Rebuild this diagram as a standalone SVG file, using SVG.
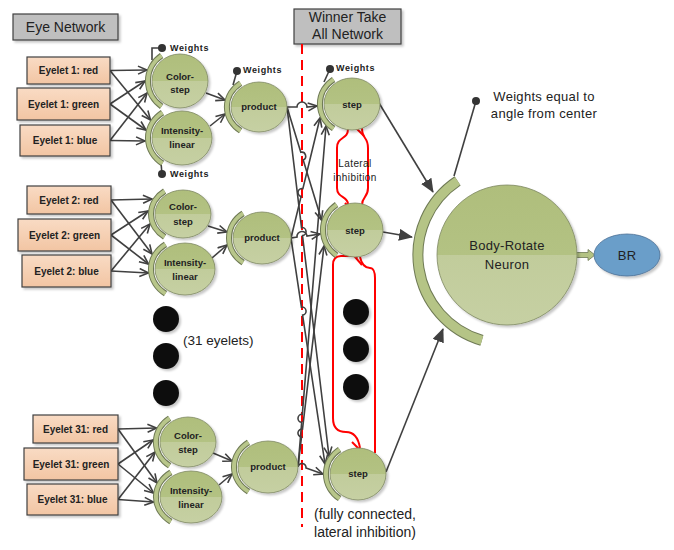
<svg xmlns="http://www.w3.org/2000/svg" width="674" height="550" viewBox="0 0 674 550">
<defs>
<linearGradient id="gGreen" x1="0" y1="0" x2="0" y2="1">
<stop offset="0" stop-color="#afbe7c"/><stop offset="0.5" stop-color="#b3c283"/><stop offset="0.5" stop-color="#c1cc9b"/><stop offset="1" stop-color="#c6d0a3"/>
</linearGradient>
<linearGradient id="gPeach" x1="0" y1="0" x2="0" y2="1">
<stop offset="0" stop-color="#f9dbc4"/><stop offset="1" stop-color="#f2c5a3"/>
</linearGradient>
<filter id="sh" x="-20%" y="-20%" width="150%" height="150%">
<feDropShadow dx="2" dy="2" stdDeviation="1" flood-color="#000" flood-opacity="0.22"/>
</filter>
<marker id="open" markerUnits="userSpaceOnUse" markerWidth="12" markerHeight="10" viewBox="0 0 12 10" refX="10" refY="5" orient="auto">
<path d="M1,1 L10,5 L1,9" fill="none" stroke="#404040" stroke-width="1.6"/>
</marker>
<marker id="solid" markerUnits="userSpaceOnUse" markerWidth="14" markerHeight="12" viewBox="0 0 14 12" refX="13" refY="6" orient="auto">
<path d="M0,0 L14,6 L0,12 z" fill="#404040"/>
</marker>
</defs>
<style>
.ln{fill:none;stroke:#404040;stroke-width:1.6}
.ar{marker-end:url(#open)}
.as{marker-end:url(#solid)}
.node{fill:url(#gGreen);stroke:#7d8862;stroke-width:0.8}
.bo{fill:none;stroke:#6f7a55;stroke-width:6}
.bi{fill:none;stroke:#b8c68a;stroke-width:4}
.box{fill:url(#gPeach);stroke:#404040;stroke-width:1.2}
.gbox{fill:#bfbfbf;stroke:#404040;stroke-width:1.2}
.red{fill:none;stroke:#ff0000;stroke-width:2}
.dot{fill:#0d0d0d}
.sd{filter:url(#sh)}
text{font-family:"Liberation Sans",Arial,sans-serif;fill:#222}
.lbl{font-size:10px;font-weight:bold;text-anchor:middle}
.nt{font-size:9.5px;font-weight:bold;text-anchor:middle}
.wt{font-size:9px;font-weight:bold;letter-spacing:0.6px}
.tt{font-size:14px;text-anchor:middle}
.big{font-size:13px;text-anchor:middle;letter-spacing:0.3px}
</style>

<!-- title boxes -->
<g id="eye-network">
<rect class="gbox sd" x="13" y="14" width="105" height="26"/>
<text class="tt" x="65.5" y="32">Eye Network</text>
</g>
<g id="wta-network">
<rect class="gbox sd" x="294" y="9" width="107" height="35"/>
<text class="tt" x="347.5" y="22">Winner Take</text>
<text class="tt" x="347.5" y="39">All Network</text>
</g>

<!-- red dashed divider -->
<line x1="302" y1="44" x2="302" y2="527" stroke="#ff0000" stroke-width="2" stroke-dasharray="10,6"/>

<!-- connectors -->
<g id="connectors">
<!-- group 1 eyelets -->
<line class="ln ar" x1="110" y1="70.5" x2="147" y2="70"/>
<line class="ln ar" x1="110" y1="70.5" x2="150.5" y2="120"/>
<line class="ln ar" x1="110" y1="104" x2="145" y2="81"/>
<line class="ln ar" x1="110" y1="104" x2="146" y2="130"/>
<line class="ln ar" x1="110" y1="140.5" x2="147" y2="93"/>
<line class="ln ar" x1="110" y1="140.5" x2="145" y2="141"/>
<!-- group 2 eyelets -->
<line class="ln ar" x1="111" y1="200" x2="152" y2="199"/>
<line class="ln ar" x1="111" y1="200" x2="152" y2="254"/>
<line class="ln ar" x1="111" y1="235" x2="148" y2="211"/>
<line class="ln ar" x1="111" y1="235" x2="148.5" y2="264"/>
<line class="ln ar" x1="111" y1="271" x2="150" y2="224"/>
<line class="ln ar" x1="111" y1="271" x2="148.5" y2="273"/>
<!-- group 31 eyelets -->
<line class="ln ar" x1="118" y1="429" x2="156.5" y2="428"/>
<line class="ln ar" x1="118" y1="429" x2="157" y2="483"/>
<line class="ln ar" x1="118" y1="464" x2="153" y2="440"/>
<line class="ln ar" x1="118" y1="464" x2="153.5" y2="493"/>
<line class="ln ar" x1="118" y1="499.5" x2="155" y2="452"/>
<line class="ln ar" x1="118" y1="499.5" x2="153.5" y2="502"/>
<!-- filters to product -->
<line class="ln ar" x1="206" y1="93" x2="225" y2="100"/>
<line class="ln ar" x1="210" y1="126" x2="225" y2="114"/>
<line class="ln ar" x1="208" y1="226" x2="227" y2="232"/>
<line class="ln ar" x1="212" y1="258" x2="227" y2="245"/>
<line class="ln ar" x1="213" y1="453" x2="232" y2="461"/>
<line class="ln ar" x1="219" y1="485" x2="232" y2="474"/>
<!-- products to steps (fully connected) -->
<path class="ln ar" d="M287 107 L297 107 A5 5 0 0 1 307 107 L317 106"/>
<path class="ln ar" d="M287 107 L300.8 152.3 A4 4 0 0 1 303.2 159.9 L321.5 220"/>
<path class="ln ar" d="M287 107 L301.5 227.6 A4 4 0 0 1 302.5 235.6 L329 456"/>
<path class="ln ar" d="M291 238 L301.1 196.4 A4 4 0 0 1 302.9 188.6 L320 118"/>
<path class="ln ar" d="M291 238 L297 237 A5 5 0 0 1 307 236 L320 234"/>
<path class="ln ar" d="M291 238 L301.4 307.1 A4 4 0 0 1 302.6 315.1 L325 464"/>
<path class="ln ar" d="M298 467 L301.7 422.3 A4 4 0 0 1 302.3 414.3 L326 126"/>
<path class="ln ar" d="M298 467 L301.5 437 A4 4 0 0 1 302.5 429 L324 246"/>
<path class="ln ar" d="M298 467 A4 4 0 0 1 306 468 L323 474"/>
<!-- steps to neuron -->
<line class="ln as" x1="379" y1="103" x2="433" y2="192"/>
<line class="ln as" x1="383" y1="232" x2="412" y2="237"/>
<line class="ln as" x1="386" y1="472" x2="443" y2="329"/>
<!-- weights lines -->
<polyline class="ln" points="162,48 152,48 152,60"/>
<line class="ln" x1="161" y1="163" x2="162" y2="174"/>
<line class="ln" x1="237" y1="71" x2="233" y2="85"/>
<line class="ln" x1="330" y1="69" x2="324" y2="82"/>
<line class="ln" x1="476" y1="101" x2="454" y2="176"/>
<!-- lateral inhibition -->
<path class="red" d="M348 129 C348 140 337 136 337 148 L337 188 C337 198 348 196 348 204"/>
<path class="red" d="M362 128 C362 140 368 136 368 148 L368 188 C368 198 362 196 362 205"/>
<line class="red" x1="350" y1="122" x2="364" y2="136"/>
<line class="red" x1="345" y1="203" x2="357" y2="216"/>
<path class="red" d="M357 258 C356 254 352 256 346 256 L341 256 C336 256 333 259 333 265 L333 418 C333 428 338 432 346 432 C353 432 358 436 360 448"/>
<path class="red" d="M360 257 C362 266 366 268 370 268 C373 268 375 272 375 278 L375 453"/>
<line class="red" x1="349" y1="250" x2="362" y2="265"/>
<line class="red" x1="352" y1="442" x2="365" y2="455"/>
<!-- neuron to BR -->
<polygon points="576,252.5 588,252.5 588,249.5 595,255 588,260.5 588,257.5 576,257.5" fill="#b3c283" stroke="#6f7a55" stroke-width="0.8"/>
</g>

<!-- weight dots and labels -->
<g id="weights">
<circle cx="162" cy="48" r="4" fill="#333"/>
<text class="wt" x="170" y="51">Weights</text>
<circle cx="162" cy="174" r="4" fill="#333"/>
<text class="wt" x="170" y="177">Weights</text>
<circle cx="237" cy="71" r="4" fill="#333"/>
<text class="wt" x="243" y="73">Weights</text>
<circle cx="330" cy="69" r="4" fill="#333"/>
<text class="wt" x="336" y="71">Weights</text>
<circle cx="476" cy="101" r="4" fill="#333"/>
<text class="big" x="544" y="101">Weights equal to</text>
<text class="big" x="544" y="118">angle from center</text>
</g>

<!-- eyelets -->
<g id="eyelet1-red"><rect class="box sd" x="27" y="57" width="83" height="27"/><text class="lbl" x="68.5" y="74">Eyelet 1: red</text></g>
<g id="eyelet1-green"><rect class="box sd" x="17" y="88" width="93" height="32"/><text class="lbl" x="63.5" y="107.5">Eyelet 1: green</text></g>
<g id="eyelet1-blue"><rect class="box sd" x="20" y="125" width="90" height="31"/><text class="lbl" x="65" y="144">Eyelet 1: blue</text></g>
<g id="eyelet2-red"><rect class="box sd" x="27" y="186" width="84" height="28"/><text class="lbl" x="69" y="203.5">Eyelet 2: red</text></g>
<g id="eyelet2-green"><rect class="box sd" x="18" y="219" width="93" height="32"/><text class="lbl" x="64.5" y="238.5">Eyelet 2: green</text></g>
<g id="eyelet2-blue"><rect class="box sd" x="22" y="255" width="89" height="32"/><text class="lbl" x="66.5" y="274.5">Eyelet 2: blue</text></g>
<g id="eyelet31-red"><rect class="box sd" x="33" y="415" width="85" height="28"/><text class="lbl" x="75.5" y="432.5">Eyelet 31: red</text></g>
<g id="eyelet31-green"><rect class="box sd" x="24" y="448" width="94" height="32"/><text class="lbl" x="71" y="467.5">Eyelet 31: green</text></g>
<g id="eyelet31-blue"><rect class="box sd" x="27" y="484" width="91" height="31"/><text class="lbl" x="72.5" y="503">Eyelet 31: blue</text></g>

<!-- filter neurons -->
<g id="color1"><path class="bo" d="M161.6 55.6 A32 31 0 0 0 161.6 106.4"/><path class="bi" d="M161.6 55.6 A32 31 0 0 0 161.6 106.4"/><ellipse class="node sd" cx="180" cy="81" rx="28" ry="27"/><text class="nt" x="180" y="80">Color-</text><text class="nt" x="180" y="93">step</text></g>
<g id="intensity1"><path class="bo" d="M162.5 112.6 A34 31 0 0 0 162.5 163.4"/><path class="bi" d="M162.5 112.6 A34 31 0 0 0 162.5 163.4"/><ellipse class="node sd" cx="182" cy="138" rx="30" ry="27"/><text class="nt" x="182" y="134">Intensity-</text><text class="nt" x="182" y="148">linear</text></g>
<g id="color2"><path class="bo" d="M164.6 191.1 A32 28 0 0 0 164.6 236.9"/><path class="bi" d="M164.6 191.1 A32 28 0 0 0 164.6 236.9"/><ellipse class="node sd" cx="183" cy="214" rx="28" ry="24"/><text class="nt" x="183" y="210">Color-</text><text class="nt" x="183" y="225">step</text></g>
<g id="intensity2"><path class="bo" d="M165.5 244.4 A34 30 0 0 0 165.5 293.6"/><path class="bi" d="M165.5 244.4 A34 30 0 0 0 165.5 293.6"/><ellipse class="node sd" cx="185" cy="269" rx="30" ry="26"/><text class="nt" x="185" y="266">Intensity-</text><text class="nt" x="185" y="280">linear</text></g>
<g id="color31"><path class="bo" d="M169.6 418.2 A32 29 0 0 0 169.6 465.8"/><path class="bi" d="M169.6 418.2 A32 29 0 0 0 169.6 465.8"/><ellipse class="node sd" cx="188" cy="442" rx="28" ry="25"/><text class="nt" x="188" y="439">Color-</text><text class="nt" x="188" y="453">step</text></g>
<g id="intensity31"><path class="bo" d="M170.9 472.4 A35 30 0 0 0 170.9 521.6"/><path class="bi" d="M170.9 472.4 A35 30 0 0 0 170.9 521.6"/><ellipse class="node sd" cx="191" cy="497" rx="31" ry="26"/><text class="nt" x="191" y="494">Intensity-</text><text class="nt" x="191" y="508">linear</text></g>

<!-- product neurons -->
<g id="product1"><path class="bo" d="M240.6 83.2 A32 29 0 0 0 240.6 130.8"/><path class="bi" d="M240.6 83.2 A32 29 0 0 0 240.6 130.8"/><ellipse class="node sd" cx="259" cy="107" rx="28" ry="25"/><text class="nt" x="259" y="110">product</text></g>
<g id="product2"><path class="bo" d="M243.1 213.4 A33 30 0 0 0 243.1 262.6"/><path class="bi" d="M243.1 213.4 A33 30 0 0 0 243.1 262.6"/><ellipse class="node sd" cx="262" cy="238" rx="29" ry="26"/><text class="nt" x="262" y="241">product</text></g>
<g id="product31"><path class="bo" d="M248.5 442.4 A34 30 0 0 0 248.5 491.6"/><path class="bi" d="M248.5 442.4 A34 30 0 0 0 248.5 491.6"/><ellipse class="node sd" cx="268" cy="467" rx="30" ry="26"/><text class="nt" x="268" y="470">product</text></g>

<!-- step neurons -->
<g id="step1"><path class="bo" d="M333.6 79.4 A32 30 0 0 0 333.6 128.6"/><path class="bi" d="M333.6 79.4 A32 30 0 0 0 333.6 128.6"/><ellipse class="node sd" cx="352" cy="104" rx="28" ry="26"/><text class="nt" x="352" y="108">step</text></g>
<g id="step2"><path class="bo" d="M336.6 204.6 A32 31 0 0 0 336.6 255.4"/><path class="bi" d="M336.6 204.6 A32 31 0 0 0 336.6 255.4"/><ellipse class="node sd" cx="355" cy="230" rx="28" ry="27"/><text class="nt" x="355" y="234">step</text></g>
<g id="step31"><path class="bo" d="M339.6 449.4 A32 30 0 0 0 339.6 498.6"/><path class="bi" d="M339.6 449.4 A32 30 0 0 0 339.6 498.6"/><ellipse class="node sd" cx="358" cy="474" rx="28" ry="26"/><text class="nt" x="358" y="477">step</text></g>

<!-- ellipsis dots -->
<g id="more-eyelets">
<circle class="dot sd" cx="166" cy="319" r="13"/>
<circle class="dot sd" cx="166" cy="356" r="13"/>
<circle class="dot sd" cx="166" cy="393" r="13"/>
<text x="183" y="345" style="font-size:13.5px">(31 eyelets)</text>
</g>
<g id="more-steps">
<circle class="dot sd" cx="356" cy="312" r="13"/>
<circle class="dot sd" cx="356" cy="349" r="13"/>
<circle class="dot sd" cx="356" cy="387" r="13"/>
</g>

<g id="lateral-labels">
<text x="355" y="167" style="font-size:10px;text-anchor:middle;letter-spacing:0.4px">Lateral</text>
<text x="355" y="181" style="font-size:10px;text-anchor:middle;letter-spacing:0.4px">inhibition</text>
<text class="tt" x="365" y="519">(fully connected,</text>
<text class="tt" x="365" y="537">lateral inhibition)</text>
</g>

<!-- body-rotate neuron -->
<g id="body-rotate">
<path d="M457.6 180.9 A89 89 0 0 0 481.9 340.4" fill="none" stroke="#6f7a55" stroke-width="11"/>
<path d="M457.6 180.9 A89 89 0 0 0 481.9 340.4" fill="none" stroke="#b5c486" stroke-width="9"/>
<circle class="node sd" cx="507" cy="255" r="70"/>
<text class="big" x="507" y="250">Body-Rotate</text>
<text class="big" x="507" y="269">Neuron</text>
</g>
<g id="br">
<ellipse class="sd" cx="627" cy="255" rx="33" ry="21" fill="#6b9ec9" stroke="#4a6f94" stroke-width="0.8"/>
<text class="big" x="627" y="260">BR</text>
</g>
</svg>
